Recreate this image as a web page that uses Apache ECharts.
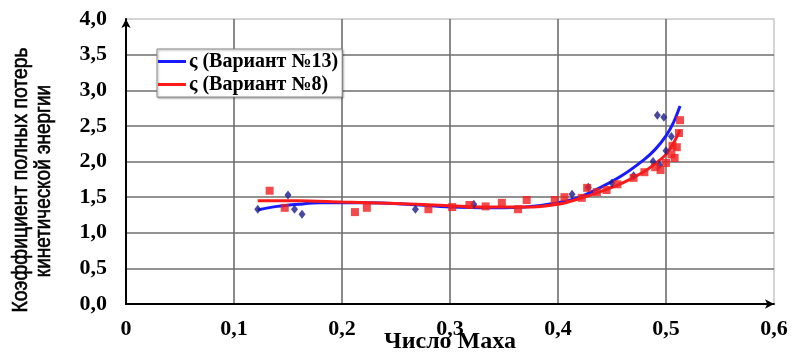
<!DOCTYPE html>
<html>
<head>
<meta charset="utf-8">
<script src="https://cdn.jsdelivr.net/npm/echarts@6/dist/echarts.min.js"></script>
<style>
  html, body { margin: 0; padding: 0; background: #fff; }
  #chart { width: 805px; height: 355px; }
</style>
</head>
<body>
<div id="chart"></div>
<script>
// Tick labels
const xTickLabels = ['0', '0,1', '0,2', '0,3', '0,4', '0,5', '0,6'];
const yTickLabels = ['0,0', '0,5', '1,0', '1,5', '2,0', '2,5', '3,0', '3,5', '4,0'];

// Measured points, variant 13 (Mach number, loss coefficient)
const v13Mach = [0.122, 0.150, 0.156, 0.163, 0.268, 0.322, 0.413, 0.428, 0.450, 0.470, 0.488, 0.494, 0.500, 0.505, 0.492, 0.498];
const v13Loss = [1.33, 1.53, 1.33, 1.26, 1.33, 1.40, 1.54, 1.64, 1.70, 1.80, 2.00, 1.95, 2.15, 2.35, 2.65, 2.62];

// Measured points, variant 8
const v8Mach = [0.133, 0.147, 0.212, 0.223, 0.280, 0.302, 0.318, 0.333, 0.348, 0.363, 0.371, 0.397, 0.406, 0.422, 0.427, 0.436, 0.445, 0.455, 0.470, 0.480, 0.490, 0.495, 0.500, 0.505, 0.508, 0.510, 0.512, 0.506, 0.513];
const v8Loss = [1.59, 1.35, 1.29, 1.35, 1.33, 1.36, 1.39, 1.37, 1.42, 1.33, 1.46, 1.46, 1.50, 1.49, 1.63, 1.57, 1.60, 1.68, 1.77, 1.85, 1.92, 1.88, 1.98, 2.10, 2.05, 2.20, 2.40, 2.22, 2.58];

// Fitted trend curves
const fit13Mach = [0.122, 0.140, 0.160, 0.180, 0.220, 0.260, 0.300, 0.340, 0.370, 0.400, 0.420, 0.440, 0.460, 0.480, 0.490, 0.500, 0.507, 0.513];
const fit13Loss = [1.32, 1.37, 1.40, 1.42, 1.42, 1.40, 1.36, 1.35, 1.36, 1.42, 1.50, 1.64, 1.81, 2.03, 2.17, 2.36, 2.55, 2.78];
const fit8Mach = [0.122, 0.160, 0.200, 0.250, 0.300, 0.340, 0.370, 0.400, 0.420, 0.440, 0.460, 0.480, 0.490, 0.500, 0.507, 0.513];
const fit8Loss = [1.45, 1.45, 1.43, 1.41, 1.38, 1.36, 1.36, 1.40, 1.48, 1.58, 1.70, 1.86, 1.97, 2.10, 2.26, 2.44];

const seriesNames = ['ς (Вариант №13)', 'ς (Вариант №8)'];

const pairs = (xs, ys) => xs.map((x, i) => [x, ys[i]]);

const chart = echarts.init(document.getElementById('chart'), null, { renderer: 'canvas' });

const tickFont = { fontFamily: 'Liberation Serif', fontWeight: 'bold', fontSize: 22, color: '#000' };

chart.setOption({
  animation: false,
  backgroundColor: '#fff',
  grid: {
    left: 126, right: 31, top: 19, bottom: 51,
    outerBoundsMode: 'none', containLabel: false,
    show: true, borderColor: '#c8c8c8', borderWidth: 1.5, backgroundColor: 'transparent'
  },
  legend: {
    data: seriesNames,
    orient: 'vertical',
    left: 157, top: 49,
    itemWidth: 28, itemHeight: 3, itemGap: 2,
    icon: 'rect',
    padding: [2, 4, 2, 1],
    backgroundColor: '#fff',
    borderColor: '#8c8c8c', borderWidth: 1,
    shadowColor: 'rgba(0,0,0,0.35)', shadowBlur: 2, shadowOffsetX: 1, shadowOffsetY: 1,
    textStyle: { fontFamily: 'Liberation Serif', fontWeight: 'bold', fontSize: 20, color: '#000', lineHeight: 21, padding: [0, 0, 0, -2] }
  },
  xAxis: {
    type: 'value', min: 0, max: 0.6, interval: 0.1,
    name: 'Число Маха', nameLocation: 'middle', nameGap: 26, nameMoveOverlap: false,
    nameTextStyle: { fontFamily: 'Liberation Serif', fontWeight: 'bold', fontSize: 24, color: '#000' },
    axisLine: { show: true, lineStyle: { color: '#000', width: 2 }, symbol: ['none', 'arrow'], symbolSize: [7, 9] },
    axisTick: { show: false },
    axisLabel: Object.assign({ margin: 14, formatter: v => xTickLabels[Math.round(v * 10)] }, tickFont),
    splitLine: { show: true, showMinLine: false, showMaxLine: false, lineStyle: { color: '#6e6e6e', width: 1.6 } }
  },
  yAxis: {
    type: 'value', min: 0, max: 4, interval: 0.5,
    axisLine: { show: true, lineStyle: { color: '#000', width: 2 }, symbol: ['none', 'arrow'], symbolSize: [7, 9] },
    axisTick: { show: false },
    axisLabel: Object.assign({ margin: 19, formatter: v => yTickLabels[Math.round(v * 2)] }, tickFont),
    splitLine: { show: true, showMinLine: false, showMaxLine: false, lineStyle: { color: '#6e6e6e', width: 1.6 } }
  },
  graphic: [
    {
      // condensed two-line vertical axis title
      type: 'text', x: 21, y: 180, rotation: Math.PI / 2, scaleX: 0.88,
      style: { text: 'Коэффициент полных потерь', fontFamily: 'Liberation Sans', fontSize: 22, fill: '#000',
               stroke: '#000', lineWidth: 0.6, align: 'center', verticalAlign: 'middle' }
    },
    {
      type: 'text', x: 44, y: 181, rotation: Math.PI / 2, scaleX: 0.86,
      style: { text: 'кинетической энергии', fontFamily: 'Liberation Sans', fontSize: 22, fill: '#000',
               stroke: '#000', lineWidth: 0.6, align: 'center', verticalAlign: 'middle' }
    }
  ],
  series: [
    {
      name: seriesNames[0], type: 'line', data: pairs(fit13Mach, fit13Loss),
      smooth: 0.3, showSymbol: false, symbol: 'none',
      lineStyle: { color: '#1a1aff', width: 3 }, itemStyle: { color: '#1a1aff' }, z: 2
    },
    {
      name: seriesNames[1], type: 'line', data: pairs(fit8Mach, fit8Loss),
      smooth: 0.3, showSymbol: false, symbol: 'none',
      lineStyle: { color: '#ff1a1a', width: 3 }, itemStyle: { color: '#ff1a1a' }, z: 3
    },
    {
      name: 'v13 points', type: 'scatter', data: pairs(v13Mach, v13Loss),
      symbol: 'diamond', symbolSize: [7, 9], itemStyle: { color: '#1c1c8a' }, z: 4
    },
    {
      name: 'v8 points', type: 'scatter', data: pairs(v8Mach, v8Loss),
      symbol: 'rect', symbolSize: 8, itemStyle: { color: '#f01e1e' }, z: 5
    }
  ]
});
</script>
</body>
</html>
